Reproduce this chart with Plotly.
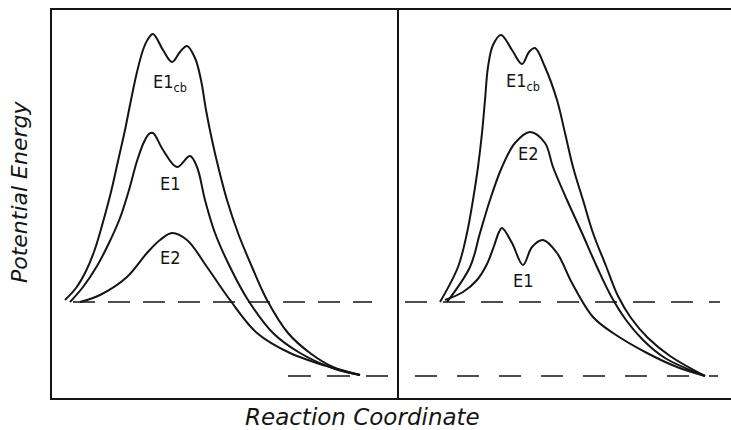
import plotly.graph_objects as go
from plotly.subplots import make_subplots

# Energy profiles (arbitrary units): x = reaction coordinate, y = potential energy
# Left panel
L_E1CB_X = [13, 24, 34, 43, 51, 59, 66, 73, 79, 85, 91, 96, 101, 111, 120, 128, 135, 143, 149, 154, 160, 167, 175, 186, 200, 215, 236, 258, 281, 308]
L_E1CB_Y = [98, 110, 127, 149, 176, 206, 237, 268, 298, 326, 348, 359, 364, 348, 336, 346, 352, 340, 318, 288, 258, 228, 198, 165, 131, 98, 65, 45, 31, 23]
L_E1_X = [18, 31, 45, 57, 68, 77, 85, 92, 97, 101, 111, 125, 138, 145, 153, 163, 178, 196, 221, 248, 283, 308]
L_E1_Y = [96, 111, 132, 155, 180, 208, 237, 256, 264, 265, 248, 231, 242, 231, 198, 165, 131, 98, 65, 45, 29, 23]
L_E2_X = [28, 48, 75, 95, 108, 120, 135, 155, 178, 205, 238, 281, 308]
L_E2_Y = [96, 103, 121, 145, 158, 165, 158, 131, 98, 65, 45, 30, 23]

# Right panel
R_E1CB_X = [43, 61, 70, 76, 81, 85, 88, 91, 96, 104, 115, 125, 132, 138, 148, 160, 168, 176, 186, 196, 209, 221, 234, 251, 273, 308]
R_E1CB_Y = [96, 131, 165, 198, 231, 265, 298, 331, 353, 363, 348, 334, 346, 350, 331, 298, 265, 231, 198, 165, 132, 102, 80, 60, 42, 22]
R_E2_X = [50, 73, 83, 93, 105, 118, 133, 148, 156, 170, 185, 200, 214, 229, 246, 268, 308]
R_E2_Y = [96, 131, 165, 198, 231, 255, 266, 255, 231, 198, 165, 131, 102, 78, 58, 40, 22]
R_E1_X = [48, 66, 80, 90, 97, 102, 105, 115, 126, 135, 146, 160, 175, 196, 216, 250, 280, 308]
R_E1_Y = [98, 106, 118, 134, 152, 166, 170, 155, 133, 151, 158, 145, 115, 81, 65, 45, 31, 22]

# Reactant / product reference levels: (x start, x end, energy, dash, gap)
L_LEVELS = [(21, 320, 96, 22, 13), (236, 336, 22, 23, 16)]
R_LEVELS = [(8, 323, 96, 22, 16), (18, 321, 22, 22, 20)]

# Curve labels: (text, x, y)
L_LABELS = [("E1<sub>cb</sub>", 118, 315), ("E1", 118, 215), ("E2", 118, 141)]
R_LABELS = [("E1<sub>cb</sub>", 126, 316), ("E2", 131, 245), ("E1", 126, 118)]

INK = "#141414"
LW = 2.0

fig = make_subplots(rows=1, cols=2, shared_yaxes=True,
                    column_widths=[345, 334], horizontal_spacing=0)

def add_curve(xs, ys, col):
    fig.add_trace(go.Scatter(x=xs, y=ys, mode="lines",
                             line=dict(color=INK, width=LW, shape="spline", smoothing=1.0),
                             showlegend=False, hoverinfo="skip"), row=1, col=col)

def add_level(x0, x1, y, dash, gap, col):
    fig.add_trace(go.Scatter(x=[x0, x1], y=[y, y], mode="lines",
                             line=dict(color=INK, width=1.6, dash=f"{dash}px,{gap}px"),
                             showlegend=False, hoverinfo="skip"), row=1, col=col)

for lv in L_LEVELS:
    add_level(*lv, 1)
for lv in R_LEVELS:
    add_level(*lv, 2)

for xs, ys in [(L_E1CB_X, L_E1CB_Y), (L_E1_X, L_E1_Y), (L_E2_X, L_E2_Y)]:
    add_curve(xs, ys, 1)
for xs, ys in [(R_E1CB_X, R_E1CB_Y), (R_E2_X, R_E2_Y), (R_E1_X, R_E1_Y)]:
    add_curve(xs, ys, 2)

label_font = dict(family="DejaVu Sans Condensed, DejaVu Sans", size=18, color=INK)
for text, x, y in L_LABELS:
    fig.add_annotation(x=x, y=y, xref="x", yref="y", text=text, showarrow=False, font=label_font)
for text, x, y in R_LABELS:
    fig.add_annotation(x=x, y=y, xref="x2", yref="y", text=text, showarrow=False, font=label_font)

title_font = dict(family="DejaVu Sans", size=22, color=INK, style="italic")
fig.add_annotation(x=-0.047, y=0.531, xref="paper", yref="paper", text="Potential Energy",
                   textangle=-90, showarrow=False, xanchor="center", yanchor="middle",
                   font=title_font)
fig.add_annotation(x=0.458, y=-0.049, xref="paper", yref="paper", text="Reaction Coordinate",
                   showarrow=False, xanchor="center", yanchor="middle",
                   font=dict(title_font, size=23))

axis_common = dict(showgrid=False, zeroline=False, showticklabels=False, ticks="",
                   linecolor=INK, linewidth=2)
fig.update_xaxes(range=[0, 345], showline=True, mirror=True, **axis_common, row=1, col=1)
fig.update_xaxes(range=[0, 334], showline=True, mirror=True, **axis_common, row=1, col=2)
fig.update_yaxes(range=[0, 388], showline=True, mirror=True, **axis_common, row=1, col=1)
fig.update_yaxes(range=[0, 388], showline=False, **axis_common, row=1, col=2)

fig.update_layout(width=731, height=430, margin=dict(l=52, r=0, t=10, b=32),
                  plot_bgcolor="white", paper_bgcolor="white")

fig.write_html("out.html")
